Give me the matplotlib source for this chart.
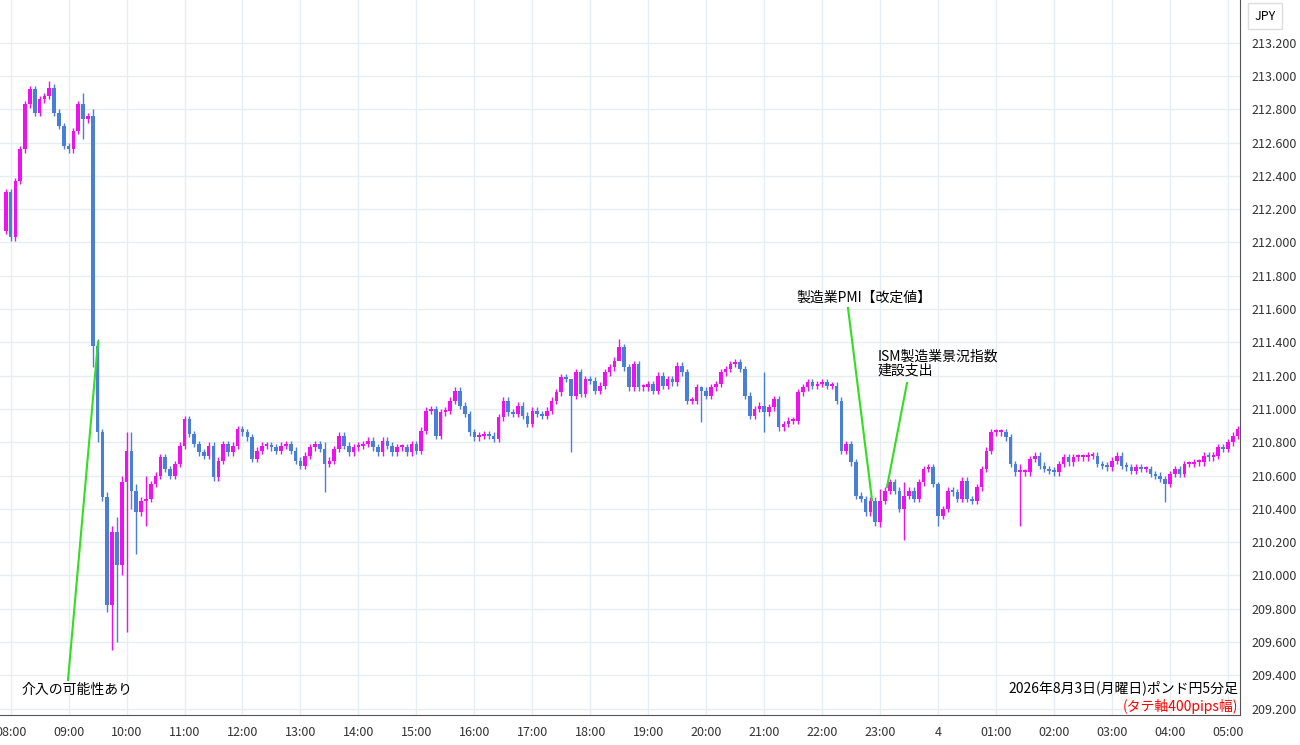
import matplotlib
matplotlib.use("Agg")
import matplotlib.pyplot as plt

plt.rcParams['font.family'] = ['Noto Sans CJK JP', 'DejaVu Sans']

first_open = 212.07
closes = [
    212.30, 212.03, 212.37, 212.56, 212.83, 212.92, 212.78, 212.86, 212.88, 212.93, 212.78, 212.70, 212.58,
    212.56, 212.67, 212.83, 212.74, 212.76, 211.38, 210.86, 210.47, 209.82, 210.26, 210.06, 210.56,
    210.75, 210.51, 210.38, 210.45, 210.46, 210.55, 210.60, 210.71, 210.64, 210.60, 210.67, 210.78,
    210.94, 210.85, 210.79, 210.74, 210.72, 210.78, 210.59, 210.69, 210.79, 210.74, 210.78, 210.88,
    210.86, 210.83, 210.70, 210.75, 210.78, 210.78, 210.77, 210.75, 210.78, 210.79, 210.75, 210.69,
    210.66, 210.72, 210.77, 210.79, 210.76, 210.67, 210.69, 210.76, 210.84, 210.78, 210.74, 210.77,
    210.78, 210.79, 210.81, 210.77, 210.74, 210.81, 210.78, 210.74, 210.77, 210.77, 210.74, 210.79,
    210.75, 210.87, 210.99, 211.00, 210.84, 210.98, 210.99, 211.05, 211.11, 211.02, 210.97, 210.86,
    210.83, 210.84, 210.85, 210.84, 210.82, 210.95, 211.05, 210.98, 210.97, 211.02, 210.96, 210.91,
    210.99, 210.97, 210.96, 210.99, 211.05, 211.10, 211.19, 211.18, 211.08, 211.22, 211.09, 211.18,
    211.17, 211.11, 211.14, 211.22, 211.25, 211.29, 211.37, 211.25, 211.13, 211.27, 211.13, 211.13,
    211.15, 211.11, 211.20, 211.14, 211.18, 211.16, 211.26, 211.22, 211.05, 211.05, 211.13, 211.11,
    211.08, 211.13, 211.15, 211.22, 211.24, 211.27, 211.28, 211.24, 211.08, 210.96, 211.00, 211.02,
    210.98, 211.01, 211.06, 210.89, 210.91, 210.93, 210.93, 211.10, 211.13, 211.16, 211.14, 211.15,
    211.16, 211.14, 211.14, 211.05, 210.75, 210.79, 210.68, 210.48, 210.46, 210.38, 210.45, 210.32,
    210.45, 210.51, 210.56, 210.51, 210.40, 210.48, 210.51, 210.46, 210.56, 210.64, 210.65, 210.55,
    210.36, 210.40, 210.51, 210.50, 210.46, 210.57, 210.46, 210.45, 210.53, 210.64, 210.75, 210.86,
    210.86, 210.86, 210.83, 210.67, 210.62, 210.62, 210.62, 210.70, 210.72, 210.66, 210.64, 210.63,
    210.62, 210.67, 210.71, 210.68, 210.71, 210.71, 210.71, 210.72, 210.72, 210.67, 210.66, 210.65,
    210.69, 210.72, 210.66, 210.65, 210.63, 210.65, 210.64, 210.64, 210.61, 210.60, 210.58, 210.55,
    210.61, 210.64, 210.61, 210.67, 210.67, 210.68, 210.68, 210.72, 210.71, 210.72, 210.77, 210.76,
    210.80, 210.84, 210.88,
]
# long wicks: index -> (high, low)
wick_override = {
    9: (212.97, 212.86), 16: (212.90, 212.62), 18: (212.80, 211.25), 19: (211.42, 210.80),
    21: (210.50, 209.78), 22: (210.30, 209.55), 23: (210.35, 209.60), 24: (210.60, 210.00),
    25: (210.86, 209.66), 26: (210.86, 210.40), 27: (210.55, 210.13), 29: (210.60, 210.30),
    66: (210.80, 210.50), 117: (211.10, 210.74), 127: (211.42, 211.30), 144: (211.14, 210.92),
    157: (211.22, 210.86), 181: (210.52, 210.29), 186: (210.56, 210.21), 193: (210.56, 210.30),
    210: (210.67, 210.30), 240: (210.60, 210.44),
}
hour_labels = ["08:00", "09:00", "10:00", "11:00", "12:00", "13:00", "14:00", "15:00", "16:00",
               "17:00", "18:00", "19:00", "20:00", "21:00", "22:00", "23:00", "4", "01:00",
               "02:00", "03:00", "04:00", "05:00"]

up_col = '#ee11ee'
down_col = '#4a7fd8'

fig = plt.figure(figsize=(13, 7.45), dpi=100)
ax = fig.add_axes([0, 30 / 745, 1240 / 1300, 715 / 745])

opens = [first_open] + closes[:-1]
for i, (o, c) in enumerate(zip(opens, closes)):
    col = up_col if c >= o else down_col
    hi, lo = wick_override.get(i, (max(o, c) + 0.02, min(o, c) - 0.02))
    ax.vlines(i, lo, hi, color=col, lw=1)
    h = abs(c - o)
    if h < 0.012:
        h = 0.012
    ax.bar(i, h, bottom=min(o, c), width=0.75, color=col, linewidth=0)

ax.set_xlim(-1.2, 255.5)
ax.set_ylim(209.162, 213.456)
ax.set_xticks([1 + 12 * k for k in range(len(hour_labels))])
ax.set_xticklabels(hour_labels, fontsize=9, color='#333333')
ticks = [209.2 + 0.2 * k for k in range(21)]
ax.yaxis.tick_right()
ax.set_yticks(ticks)
ax.set_yticklabels([f"{t:.3f}" for t in ticks], fontsize=9, color='#333333')
ax.tick_params(length=0, pad=8)
ax.grid(True, color='#e6edf3', lw=1)
ax.set_axisbelow(True)
for s in ['top', 'left']:
    ax.spines[s].set_visible(False)
ax.spines['right'].set_color('#555555')
ax.spines['bottom'].set_color('#555555')

# annotations (in pixel-fraction coordinates of the figure)
def fx(px):
    return px / 1300

def fy(py):
    return 1 - py / 745

green = '#33dd22'
fig.add_artist(plt.Line2D([fx(68), fx(98)], [fy(680), fy(342)], color=green, lw=1.5))
fig.add_artist(plt.Line2D([fx(848), fx(872)], [fy(308), fy(500)], color=green, lw=1.5))
fig.add_artist(plt.Line2D([fx(907), fx(887)], [fy(383), fy(487)], color=green, lw=1.5))
fig.text(fx(22), fy(690), "介入の可能性あり", fontsize=10, va='center')
fig.text(fx(796), fy(298), "製造業PMI【改定値】", fontsize=10, va='center')
fig.text(fx(878), fy(364), "ISM製造業景況指数\n建設支出", fontsize=10, va='center', linespacing=1.0)
fig.text(fx(1238), fy(688), "2026年8月3日(月曜日)ポンド円5分足", fontsize=10, ha='right', va='center')
fig.text(fx(1238), fy(706), "(タテ軸400pips幅)", fontsize=10, ha='right', va='center', color='red')
fig.text(fx(1265), fy(16), "JPY", fontsize=9, ha='center', va='center',
         bbox=dict(boxstyle='square,pad=0.5', fc='white', ec='#dddddd'))

fig.savefig("out.png")
